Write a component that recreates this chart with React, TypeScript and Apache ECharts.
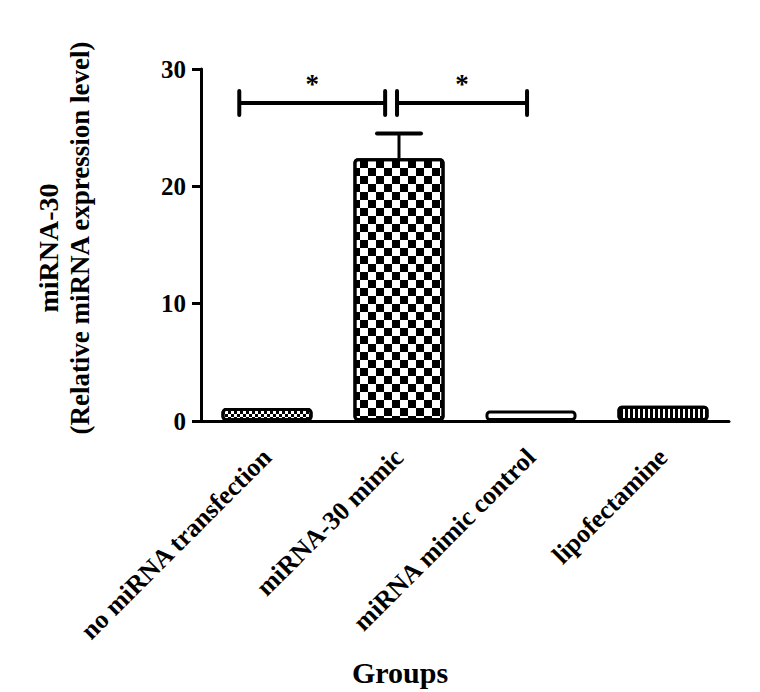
import React, { useEffect, useRef } from "react";
import * as echarts from "echarts";

const categories = ["no miRNA transfection", "miRNA-30 mimic", "miRNA mimic control", "lipofectamine"];
const means = [1.1, 22.4, 0.9, 1.3];
const errors = [0, 2.1, 0, 0];
const yMin = 0;
const yMax = 30;
const yInterval = 10;
const sigPairs = [
  [0, 1],
  [1, 2],
];
const sigLevel = [27.1, 27.1];
const sigLabels = ["*", "*"];
const yTitleLines = ["miRNA-30", "(Relative miRNA expression level)"];
const xTitle = "Groups";

const FONT = '"Liberation Serif", "Times New Roman", serif';

export default function App() {
  const ref = useRef<HTMLDivElement>(null);
  useEffect(() => {
    if (!ref.current) return;
    const chart = echarts.init(ref.current, null, { renderer: "svg" });

    const decals: any[] = [
      {
        symbol: "rect",
        symbolSize: 1,
        color: "#000",
        dashArrayX: [[2.5, 2.5], [0, 2.5, 2.5, 0]],
        dashArrayY: [2.5, 0],
      },
      {
        symbol: "rect",
        symbolSize: 1,
        color: "#000",
        dashArrayX: [[7.3, 7.3], [0, 7.3, 7.3, 0]],
        dashArrayY: [7.3, 0],
      },
      null,
      {
        symbol: "rect",
        symbolSize: 1,
        color: "#000",
        dashArrayX: [2.5, 2],
        dashArrayY: [4, 0],
      },
    ];

    const barData = means.map((v, i) => {
      const itemStyle: any = {
        color: "#fff",
        borderColor: "#000",
        borderWidth: 3,
        borderRadius: 3,
      };
      if (decals[i]) itemStyle.decal = decals[i];
      return { value: v, itemStyle };
    });

    const errData = means
      .map((v, i) => [i, v, v + errors[i]])
      .filter((d) => d[2] > d[1]);

    const sigData = sigPairs.map((p, i) => [p[0], p[1], sigLevel[i]]);
    // layout offsets (fraction of band) for bracket ends
    const sigOffsets = [
      [-0.21, -0.105],
      [-0.015, -0.03],
    ];

    chart.setOption({
      animation: false,
      backgroundColor: "#fff",
      grid: { left: 201, right: 31, top: 69, bottom: 271, containLabel: false },
      xAxis: {
        type: "category",
        data: categories,
        axisLine: { lineStyle: { color: "#000", width: 3 } },
        axisTick: { alignWithLabel: true, length: 9, lineStyle: { color: "#000", width: 3 } },
        axisLabel: {
          interval: 0,
          rotate: 45,
          margin: 32,
          color: "#000",
          fontFamily: FONT,
          fontWeight: "bold",
          fontSize: 26,
        },
        splitLine: { show: false },
      },
      yAxis: {
        type: "value",
        min: yMin,
        max: yMax,
        interval: yInterval,
        axisLine: { show: true, lineStyle: { color: "#000", width: 3 } },
        axisTick: { show: true, length: 9, lineStyle: { color: "#000", width: 3 } },
        axisLabel: {
          margin: 15,
          color: "#000",
          fontFamily: FONT,
          fontWeight: "bold",
          fontSize: 25,
        },
        splitLine: { show: false },
      },
      series: [
        {
          type: "bar",
          data: barData,
          barWidth: "69%",
          z: 2,
        },
        {
          type: "custom",
          data: errData,
          z: 1,
          renderItem: (params: any, api: any) => {
            const x = api.value(0);
            const lo = api.coord([x, api.value(1)]);
            const hi = api.coord([x, api.value(2)]);
            const capHalf = 22;
            return {
              type: "group",
              children: [
                {
                  type: "line",
                  shape: { x1: lo[0], y1: lo[1], x2: hi[0], y2: hi[1] },
                  style: { stroke: "#000", lineWidth: 3 },
                },
                {
                  type: "line",
                  shape: { x1: hi[0] - capHalf, y1: hi[1], x2: hi[0] + capHalf, y2: hi[1] },
                  style: { stroke: "#000", lineWidth: 4, lineCap: "round" },
                },
              ],
            };
          },
        },
        {
          type: "custom",
          data: sigData,
          z: 3,
          renderItem: (params: any, api: any) => {
            const i0 = api.value(0);
            const i1 = api.value(1);
            const y = api.value(2);
            const band = api.size([1, 0])[0];
            const off = sigOffsets[params.dataIndex];
            const p0 = api.coord([i0, y]);
            const p1 = api.coord([i1, y]);
            const xa = p0[0] + off[0] * band;
            const xb = p1[0] + off[1] * band;
            const py = p0[1];
            const capH = 12;
            return {
              type: "group",
              children: [
                {
                  type: "line",
                  shape: { x1: xa, y1: py, x2: xb, y2: py },
                  style: { stroke: "#000", lineWidth: 4 },
                },
                {
                  type: "line",
                  shape: { x1: xa, y1: py - capH, x2: xa, y2: py + capH },
                  style: { stroke: "#000", lineWidth: 4, lineCap: "round" },
                },
                {
                  type: "line",
                  shape: { x1: xb, y1: py - capH, x2: xb, y2: py + capH },
                  style: { stroke: "#000", lineWidth: 4, lineCap: "round" },
                },
                {
                  type: "text",
                  x: (xa + xb) / 2,
                  y: py - 19,
                  style: {
                    text: sigLabels[params.dataIndex],
                    fill: "#000",
                    align: "center",
                    verticalAlign: "middle",
                    font: `bold 27px ${FONT}`,
                  },
                },
              ],
            };
          },
        },
      ],
      graphic: [
        {
          type: "text",
          x: 48,
          y: 248,
          rotation: Math.PI / 2,
          style: {
            text: yTitleLines[0],
            fill: "#000",
            align: "center",
            verticalAlign: "middle",
            font: `bold 28px ${FONT}`,
          },
        },
        {
          type: "text",
          x: 80,
          y: 238,
          rotation: Math.PI / 2,
          style: {
            text: yTitleLines[1],
            fill: "#000",
            align: "center",
            verticalAlign: "middle",
            font: `bold 27px ${FONT}`,
          },
        },
        {
          type: "text",
          x: 400,
          y: 672,
          style: {
            text: xTitle,
            fill: "#000",
            align: "center",
            verticalAlign: "middle",
            font: `bold 30px ${FONT}`,
          },
        },
      ],
    });
    return () => chart.dispose();
  }, []);
  return (
    <div
      ref={ref}
      style={{ width: 760, height: 692, position: "absolute", left: 0, top: 0 }}
    />
  );
}
